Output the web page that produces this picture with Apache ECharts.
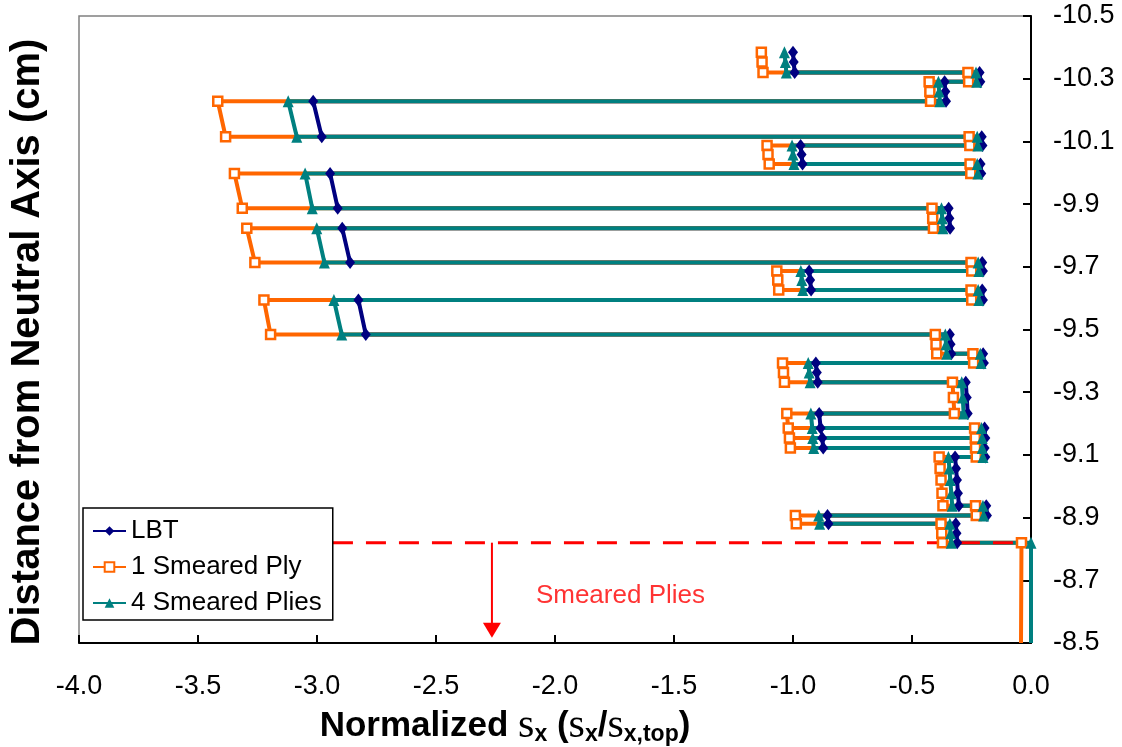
<!DOCTYPE html>
<html>
<head>
<meta charset="utf-8">
<title>Normalized stress through the laminate</title>
<script src="https://cdn.jsdelivr.net/npm/echarts@6.0.0/dist/echarts.min.js"></script>
<style>
html, body { margin: 0; padding: 0; background: #fff; }
#main { width: 1122px; height: 747px; }
</style>
</head>
<body>
<div id="main"></div>
<script>
// distance from neutral axis (cm) of every plotted point, shared by the three curves
var depth = [
	-10.384, -10.353, -10.320,
	-10.320, -10.290,
	-10.290, -10.259, -10.228,
	-10.228, -10.115,
	-10.115, -10.087,
	-10.087, -10.058, -10.028,
	-10.028, -9.998,
	-9.998, -9.887,
	-9.887, -9.855, -9.823,
	-9.823, -9.714,
	-9.714, -9.687,
	-9.687, -9.658, -9.626,
	-9.626, -9.594,
	-9.594, -9.484,
	-9.484, -9.453, -9.423,
	-9.423, -9.393,
	-9.393, -9.363, -9.332,
	-9.332, -9.283, -9.232,
	-9.232, -9.186,
	-9.186, -9.154,
	-9.154, -9.122,
	-9.122, -9.093,
	-9.093, -9.057, -9.020, -8.978, -8.938,
	-8.938, -8.907,
	-8.907, -8.880,
	-8.880, -8.850, -8.820
];

var lbtX = [
	-1.000, -0.997, -0.993,
	-0.216, -0.213,
	-0.363, -0.360, -0.357,
	-3.016, -2.980,
	-0.207, -0.204,
	-0.968, -0.964, -0.960,
	-0.212, -0.209,
	-2.945, -2.913,
	-0.346, -0.343, -0.340,
	-2.894, -2.861,
	-0.205, -0.202,
	-0.932, -0.928, -0.924,
	-0.205, -0.202,
	-2.826, -2.795,
	-0.341, -0.338, -0.335,
	-0.201, -0.198,
	-0.904, -0.900, -0.896,
	-0.274, -0.270, -0.266,
	-0.890, -0.884,
	-0.195, -0.192,
	-0.877, -0.873,
	-0.195, -0.192,
	-0.319, -0.315, -0.311, -0.307, -0.303,
	-0.188, -0.185,
	-0.855, -0.851,
	-0.316, -0.313, -0.310
];

var smear1X = [
	-1.133, -1.130, -1.126,
	-0.265, -0.262,
	-0.428, -0.425, -0.422,
	-3.417, -3.384,
	-0.260, -0.257,
	-1.109, -1.105, -1.100,
	-0.256, -0.253,
	-3.347, -3.314,
	-0.416, -0.413, -0.410,
	-3.295, -3.261,
	-0.252, -0.249,
	-1.068, -1.064, -1.060,
	-0.252, -0.249,
	-3.223, -3.195,
	-0.402, -0.399, -0.396,
	-0.244, -0.241,
	-1.044, -1.040, -1.036,
	-0.330, -0.326, -0.322,
	-1.026, -1.020,
	-0.237, -0.234,
	-1.015, -1.011,
	-0.233, -0.230,
	-0.386, -0.382, -0.378, -0.374, -0.370,
	-0.233, -0.230,
	-0.990, -0.986,
	-0.378, -0.375, -0.372
];

var smear4X = [
	-1.036, -1.032, -1.028,
	-0.231, -0.228,
	-0.389, -0.386, -0.383,
	-3.121, -3.085,
	-0.226, -0.223,
	-1.004, -1.000, -0.996,
	-0.226, -0.223,
	-3.050, -3.020,
	-0.376, -0.373, -0.370,
	-3.001, -2.969,
	-0.222, -0.219,
	-0.967, -0.963, -0.959,
	-0.222, -0.219,
	-2.929, -2.896,
	-0.360, -0.357, -0.354,
	-0.213, -0.210,
	-0.936, -0.932, -0.928,
	-0.291, -0.287, -0.283,
	-0.925, -0.919,
	-0.208, -0.205,
	-0.917, -0.913,
	-0.205, -0.202,
	-0.347, -0.343, -0.339, -0.335, -0.331,
	-0.202, -0.199,
	-0.892, -0.888,
	-0.341, -0.338, -0.335
];

// smeared region below the last discrete ply
var tailDepth = [-8.820, -8.500];
var smear1TailX = [-0.040, -0.042];
var smear4TailX = [0.000, 0.000];

// red annotation
var dashX = [-2.933, -0.030];
var dashDepth = -8.820;
var arrowX = -2.265;
var arrowDepth = [-8.820, -8.541];
var noteX = -1.725;
var noteDepth = -8.650;
var noteText = 'Smeared Plies';

var seriesNames = ['LBT', '1 Smeared Ply', '4 Smeared Plies'];

var FONT = '"Liberation Sans", Arial, sans-serif';

function makePoints(xs, ys, tailXs, tailYs) {
	var pts = [];
	for (var i = 0; i < xs.length; i++) {
		pts.push([xs[i], ys[i]]);
	}
	if (tailXs) {
		for (var j = 0; j < tailXs.length; j++) {
			if (j == tailXs.length - 1) {
				pts.push({ value: [tailXs[j], tailYs[j]], symbol: 'none' });
			} else {
				pts.push([tailXs[j], tailYs[j]]);
			}
		}
	}
	return pts;
}

function makeUpChart() {
	var myChart = echarts.init(document.getElementById('main'));

	var option = {
		animation: false,
		backgroundColor: '#fff',
		grid: {
			left: 79,
			right: 91,
			top: 16,
			bottom: 104,
			containLabel: false,
			outerBoundsMode: 'none',
			show: true,
			borderColor: '#808080',
			borderWidth: 1.5
		},
		legend: {
			data: seriesNames,
			orient: 'vertical',
			left: 83,
			top: 508,
			padding: [10, 11, 4, 9],
			itemGap: 10,
			itemWidth: 33,
			itemHeight: 12,
			backgroundColor: '#fff',
			borderColor: '#000',
			borderWidth: 1.5,
			borderRadius: 0,
			textStyle: { fontSize: 26, color: '#000', fontFamily: FONT }
		},
		xAxis: {
			type: 'value',
			min: -4,
			max: 0,
			interval: 0.5,
			position: 'bottom',
			axisLine: { onZero: false, lineStyle: { color: '#000', width: 2 } },
			axisTick: { inside: true, length: 8, lineStyle: { color: '#000', width: 2 } },
			axisLabel: {
				margin: 30,
				fontSize: 27,
				color: '#000',
				fontFamily: FONT,
				formatter: function (v) { return v.toFixed(1); }
			},
			splitLine: { show: false },
			name: '{b|Normalized }{s|s}{sub|x}{b| (}{s|s}{sub|x}{b|/}{s|s}{sub|x,top}{b|)}',
			nameLocation: 'middle',
			nameGap: 57,
			nameTextStyle: {
				padding: [0, 100, 0, 0],
				rich: {
					b: { fontSize: 35, fontWeight: 'bold', color: '#000', fontFamily: FONT },
					s: { fontSize: 42, color: '#000', fontFamily: '"Liberation Serif", "Times New Roman", serif' },
					sub: { fontSize: 23, fontWeight: 'bold', color: '#000', fontFamily: FONT, padding: [18, 0, 0, 0] }
				}
			}
		},
		yAxis: {
			type: 'value',
			position: 'right',
			inverse: true,
			min: -10.5,
			max: -8.5,
			interval: 0.2,
			axisLine: { show: true, onZero: false, lineStyle: { color: '#000', width: 2 } },
			axisTick: { show: true, inside: true, length: 8, lineStyle: { color: '#000', width: 2 } },
			axisLabel: {
				margin: 22,
				fontSize: 27,
				color: '#000',
				fontFamily: FONT,
				formatter: function (v) { return v.toFixed(1); }
			},
			splitLine: { show: false }
		},
		graphic: [
			{
				type: 'text',
				x: 28,
				y: 342,
				rotation: Math.PI / 2,
				style: {
					text: 'Distance from Neutral Axis (cm)',
					fill: '#000',
					font: 'bold 40px ' + FONT,
					align: 'center',
					verticalAlign: 'middle'
				}
			}
		],
		series: [
			{
				name: seriesNames[0],
				type: 'line',
				data: makePoints(lbtX, depth),
				symbol: 'diamond',
				symbolSize: [10, 13],
				lineStyle: { color: '#000080', width: 4 },
				itemStyle: { color: '#000080' }
			},
			{
				name: seriesNames[1],
				type: 'line',
				data: makePoints(smear1X, depth, smear1TailX, tailDepth),
				symbol: 'rect',
				symbolSize: 9,
				lineStyle: { color: '#FF6600', width: 4 },
				itemStyle: { color: '#fff', borderColor: '#FF6600', borderWidth: 2.5 }
			},
			{
				name: seriesNames[2],
				type: 'line',
				data: makePoints(smear4X, depth, smear4TailX, tailDepth),
				symbol: 'triangle',
				symbolSize: [11, 12],
				lineStyle: { color: '#008080', width: 4 },
				itemStyle: { color: '#008080' }
			},
			{
				name: 'dash',
				type: 'line',
				data: [[dashX[0], dashDepth], [dashX[1], dashDepth]],
				symbol: 'none',
				silent: true,
				lineStyle: { color: '#FF0000', width: 3, type: [20, 13] }
			},
			{
				name: 'arrow',
				type: 'line',
				data: [
					{ value: [arrowX, arrowDepth[0]], symbol: 'none' },
					{ value: [arrowX, arrowDepth[1]], symbol: 'triangle', symbolRotate: 180, symbolSize: [18, 15] }
				],
				silent: true,
				lineStyle: { color: '#FF0000', width: 2 },
				itemStyle: { color: '#FF0000' }
			},
			{
				name: 'note',
				type: 'scatter',
				data: [[noteX, noteDepth]],
				symbolSize: 1,
				silent: true,
				itemStyle: { color: 'rgba(0,0,0,0)' },
				label: {
					show: true,
					position: 'inside',
					formatter: noteText,
					color: '#FF0000',
					fontSize: 26,
					fontFamily: FONT
				}
			}
		]
	};

	myChart.setOption(option);
}

makeUpChart();
</script>
</body>
</html>
